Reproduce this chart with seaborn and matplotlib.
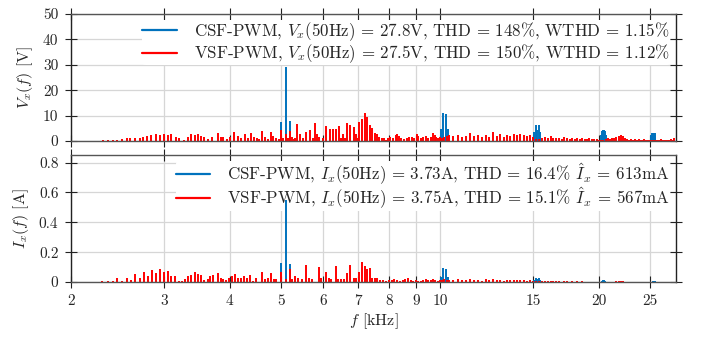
import numpy as np
import pandas as pd
import matplotlib
matplotlib.use("Agg")
import matplotlib.pyplot as plt
import seaborn as sns
from matplotlib.lines import Line2D
from matplotlib.ticker import FixedLocator, FixedFormatter, NullLocator

# --- data --------------------------------------------------------------------
# CSF-PWM voltage spectrum [kHz], [V]
csf_v_freq = [5.0, 5.1, 5.2, 10.05, 10.15, 10.25, 10.35,
              15.1, 15.2, 15.3, 15.4, 15.5,
              20.15, 20.25, 20.35, 20.45, 20.55, 20.65,
              25.1, 25.2, 25.3, 25.4, 25.5, 25.6]
csf_v_amp = [7.3, 29.0, 7.7, 4.6, 11.0, 10.8, 4.6,
             3.5, 6.3, 4.5, 6.3, 3.5,
             2.5, 4.0, 4.3, 4.3, 4.0, 2.5,
             2.2, 3.0, 3.0, 3.0, 3.0, 2.2]

# VSF-PWM voltage spectrum, low band (individual lines)
vsf_v_freq = [2.25, 2.30, 2.35, 2.40, 2.45, 2.50, 2.55, 2.59, 2.64, 2.70,
              2.74, 2.79, 2.84, 2.90, 2.95, 3.00, 3.05, 3.10, 3.16, 3.21,
              3.27, 3.33, 3.38, 3.44, 3.48, 3.52, 3.57, 3.63, 3.70, 3.79,
              3.84, 3.88, 3.95, 4.00, 4.08, 4.14, 4.20, 4.28, 4.33, 4.38,
              4.44, 4.50, 4.55, 4.61, 4.67, 4.73, 4.78, 4.82, 4.90, 4.95,
              5.00, 5.05, 5.10, 5.15, 5.20, 5.25, 5.30, 5.32, 5.37, 5.43,
              5.50, 5.58, 5.68, 5.74, 5.79, 5.84, 5.90, 6.00, 6.08, 6.18,
              6.28, 6.36, 6.45, 6.50, 6.56, 6.62, 6.67, 6.77, 6.86, 6.93,
              6.98, 7.03, 7.11, 7.21, 7.29, 7.37, 7.45, 7.52, 7.60, 7.68,
              7.76, 7.83, 7.90, 7.96, 8.05, 8.15, 8.25, 8.30, 8.35, 8.45,
              8.55, 8.65, 8.75, 8.85, 8.95, 9.05, 9.10, 9.20, 9.30, 9.40,
              9.50, 9.60, 9.70, 9.78, 9.85, 9.92, 10.00, 10.10, 10.20, 10.30]
vsf_v_amp = [0.2, 0.3, 0.3, 0.4, 0.6, 0.7, 1.0, 1.0, 1.2, 1.3,
             1.6, 2.0, 2.2, 2.6, 2.5, 2.9, 2.5, 2.6, 1.4, 1.2,
             0.6, 1.4, 2.6, 2.2, 2.9, 2.0, 1.4, 0.8, 1.6, 3.0,
             1.7, 1.7, 0.7, 1.4, 3.5, 2.0, 1.3, 2.6, 1.0, 3.0,
             1.4, 1.3, 0.8, 3.8, 1.4, 0.9, 3.5, 2.0, 1.3, 0.8,
             4.3, 1.0, 2.6, 1.0, 3.8, 1.4, 0.8, 1.2, 6.6, 2.6,
             1.2, 3.5, 4.5, 1.0, 7.1, 2.6, 1.4, 1.0, 5.9, 4.8,
             4.8, 4.8, 5.9, 1.0, 2.6, 1.0, 7.0, 6.5, 5.4, 2.6,
             1.0, 7.3, 8.5, 11.2, 9.6, 6.2, 5.2, 3.0, 2.8, 1.7,
             1.2, 1.0, 0.6, 1.0, 1.5, 1.2, 2.2, 2.6, 2.0, 1.0,
             0.8, 1.2, 1.5, 1.7, 1.2, 2.6, 2.0, 1.0, 1.4, 1.8,
             1.0, 1.6, 3.0, 2.2, 1.4, 1.0, 1.5, 1.2, 1.5, 2.0]

# VSF-PWM voltage spectrum, high band on a 200 Hz grid starting at 10.4 kHz
vsf_v_hf_start = 10.4
vsf_v_hf_amp = [2.2, 1.8, 2.5, 1.6, 2.0, 3.3, 1.8, 2.2, 1.5, 2.4,
                1.7, 3.4, 2.0, 2.8, 1.6, 2.2, 1.8, 2.6, 2.4, 2.6,
                2.3, 2.0, 2.4, 1.5, 0.8, 0.8, 1.2, 1.4, 1.0, 1.8,
                1.3, 1.0, 1.2, 0.8, 1.4, 1.0, 0.9, 1.2, 0.8, 1.0,
                0.7, 1.1, 0.9, 0.7, 1.0, 0.8, 0.9, 0.7, 0.6, 0.5,
                0.6, 0.8, 1.0, 0.9, 1.1, 1.0, 1.6, 2.1, 2.3, 2.0,
                1.2, 0.7, 0.6, 0.8, 0.6, 0.7, 0.5, 0.7, 0.6, 0.5,
                0.7, 0.5, 0.6, 0.4, 0.4, 0.5, 0.5, 0.6, 0.5, 0.7,
                0.5, 0.6, 0.5, 0.6, 0.5, 0.7, 0.6, 1.2]

# CSF-PWM current spectrum [kHz], [A]
csf_i_freq = [5.0, 5.1, 5.2, 10.05, 10.15, 10.25, 10.35,
              15.1, 15.2, 15.3, 15.4, 15.5,
              20.25, 20.35, 20.45, 20.55,
              25.3, 25.4, 25.5, 25.6]
csf_i_amp = [0.125, 0.551, 0.124, 0.035, 0.092, 0.090, 0.035,
             0.015, 0.030, 0.020, 0.030, 0.015,
             0.008, 0.012, 0.012, 0.008,
             0.005, 0.007, 0.007, 0.005]

# VSF-PWM current spectrum, low band
vsf_i_freq = [2.29, 2.35, 2.40, 2.45, 2.50, 2.55, 2.60, 2.65, 2.70, 2.75,
              2.80, 2.85, 2.90, 2.95, 3.00, 3.05, 3.10, 3.15, 3.20, 3.25,
              3.29, 3.33, 3.37, 3.43, 3.48, 3.53, 3.58, 3.63, 3.67, 3.72,
              3.79, 3.84, 3.89, 3.93, 3.98, 4.03, 4.09, 4.14, 4.20, 4.25,
              4.31, 4.37, 4.43, 4.49, 4.60, 4.66, 4.72, 4.79, 4.85, 4.90,
              5.00, 5.10, 5.20, 5.24, 5.31, 5.38, 5.48, 5.58, 5.65, 5.72,
              5.89, 5.96, 6.08, 6.16, 6.22, 6.35, 6.42, 6.50, 6.59, 6.67,
              6.77, 6.86, 6.94, 7.03, 7.13, 7.21, 7.29, 7.37, 7.45, 7.52,
              7.60, 7.70, 7.80, 7.90, 8.00, 8.10, 8.20, 8.30, 8.40, 8.50,
              8.60, 8.70, 8.80, 8.90, 9.00, 9.10, 9.20, 9.30, 9.40, 9.50,
              9.60, 9.70, 9.80, 9.90, 10.00, 10.10, 10.20, 10.30]
vsf_i_amp = [0.008, 0.005, 0.010, 0.024, 0.010, 0.024, 0.016, 0.057, 0.030, 0.070,
             0.043, 0.082, 0.060, 0.089, 0.065, 0.077, 0.043, 0.038, 0.010, 0.010,
             0.018, 0.043, 0.047, 0.070, 0.052, 0.047, 0.016, 0.018, 0.038, 0.047,
             0.060, 0.027, 0.018, 0.016, 0.030, 0.038, 0.057, 0.027, 0.027, 0.038,
             0.027, 0.047, 0.010, 0.027, 0.065, 0.018, 0.027, 0.060, 0.020, 0.020,
             0.070, 0.020, 0.087, 0.020, 0.043, 0.025, 0.020, 0.115, 0.025, 0.020,
             0.100, 0.025, 0.070, 0.025, 0.020, 0.110, 0.020, 0.020, 0.020, 0.060,
             0.115, 0.025, 0.025, 0.070, 0.136, 0.108, 0.087, 0.094, 0.025, 0.025,
             0.025, 0.015, 0.012, 0.010, 0.015, 0.012, 0.018, 0.015, 0.010, 0.012,
             0.020, 0.025, 0.015, 0.010, 0.012, 0.008, 0.010, 0.015, 0.020, 0.012,
             0.015, 0.018, 0.012, 0.010, 0.012, 0.015, 0.020, 0.015]

# VSF-PWM current spectrum, high band on a 200 Hz grid starting at 10.4 kHz
vsf_i_hf_start = 10.4
vsf_i_hf_amp = [0.012, 0.015, 0.020, 0.012, 0.015, 0.022, 0.012, 0.015, 0.010, 0.018,
                0.012, 0.022, 0.015, 0.016, 0.010, 0.014, 0.012, 0.016, 0.013, 0.015,
                0.013, 0.010, 0.012, 0.006, 0.004, 0.004, 0.005, 0.006, 0.004, 0.007,
                0.005, 0.004, 0.005, 0.003, 0.005, 0.004, 0.003, 0.004, 0.003, 0.004,
                0.002, 0.004, 0.003, 0.002, 0.003, 0.002, 0.003, 0.002, 0.002, 0.002,
                0.002, 0.003, 0.003, 0.003, 0.003, 0.003, 0.004, 0.005, 0.006, 0.005,
                0.003, 0.002, 0.002, 0.002, 0.001, 0.002, 0.001, 0.002, 0.001, 0.001,
                0.002, 0.001, 0.001, 0.001, 0.001, 0.001, 0.002, 0.001, 0.001, 0.002,
                0.001, 0.001, 0.001, 0.002, 0.001, 0.001, 0.001, 0.002]

csf_v_label = r'CSF-PWM, $V_x(50\mathrm{Hz})$ = 27.8V, THD = 148%, WTHD = 1.15%'
vsf_v_label = r'VSF-PWM, $V_x(50\mathrm{Hz})$ = 27.5V, THD = 150%, WTHD = 1.12%'
csf_i_label = r'CSF-PWM, $I_x(50\mathrm{Hz})$ = 3.73A, THD = 16.4% $\hat{I}_x$ = 613mA'
vsf_i_label = r'VSF-PWM, $I_x(50\mathrm{Hz})$ = 3.75A, THD = 15.1% $\hat{I}_x$ = 567mA'

x_ticks = [2, 3, 4, 5, 6, 7, 8, 9, 10, 15, 20, 25]
v_ticks = [0, 10, 20, 30, 40, 50]
i_ticks = [0, 0.2, 0.4, 0.6, 0.8]

BLUE = '#0072BD'
RED = '#FF0000'

# --- styling -----------------------------------------------------------------
sns.set_style('whitegrid')
plt.rcParams['font.family'] = ['cmr10', 'DejaVu Serif']
plt.rcParams['mathtext.fontset'] = 'cm'
plt.rcParams['axes.unicode_minus'] = False
plt.rcParams['axes.formatter.use_mathtext'] = True


def hf_grid(start, amps):
    # harmonic lines on a 200 Hz grid
    return list(np.round(start + 0.2 * np.arange(len(amps)), 2))


def stems(freq, amp, label):
    """Long-form table: every spectral line is one unit with two points."""
    rows = []
    for k, (f, a) in enumerate(zip(freq, amp)):
        rows.append({'f': f, 'amp': 0.0, 'series': label, 'bar': f'{label}_{k}'})
        rows.append({'f': f, 'amp': a, 'series': label, 'bar': f'{label}_{k}'})
    return pd.DataFrame(rows)


def draw_spectrum(ax, csf_f, csf_a, vsf_f, vsf_a, csf_lab, vsf_lab, spacing):
    df = pd.concat([stems(csf_f, csf_a, csf_lab), stems(vsf_f, vsf_a, vsf_lab)],
                   ignore_index=True)
    sns.lineplot(data=df, x='f', y='amp', hue='series', hue_order=[csf_lab, vsf_lab],
                 palette=[BLUE, RED], units='bar', estimator=None, sort=False,
                 lw=1.4, solid_capstyle='butt', legend=False, ax=ax)
    handles = [Line2D([], [], color=BLUE, lw=1.6), Line2D([], [], color=RED, lw=1.6)]
    leg = ax.legend(handles, [csf_lab, vsf_lab], loc='upper right', fontsize=12.2,
                    frameon=True, framealpha=1, facecolor='white', edgecolor='none',
                    handlelength=2.05, handletextpad=1.0, labelspacing=spacing,
                    borderaxespad=0.35, borderpad=0.0)
    leg.get_frame().set_linewidth(0)
    # spectral lines stay on top of the legend's white box
    leg.set_zorder(1.5)


def style_axes(ax, yticks, ylim, ylabel, labels):
    ax.set_xscale('log')
    ax.set_xlim(2, 28)
    ax.set_ylim(*ylim)
    ax.xaxis.set_major_locator(FixedLocator(x_ticks))
    ax.xaxis.set_major_formatter(FixedFormatter([str(t) for t in x_ticks]))
    ax.xaxis.set_minor_locator(NullLocator())
    ax.set_yticks(yticks)
    ax.set_yticklabels([f'{t:g}' for t in yticks])
    ax.grid(True, which='major', color='#d6d6d6', lw=0.9)
    ax.set_axisbelow(True)
    ax.tick_params(which='major', direction='inout', length=8, width=0.8,
                   top=True, right=True, bottom=True, left=True,
                   labelsize=11, color='#222222', labelbottom=labels, pad=5)
    for side in ['left', 'right']:
        ax.spines[side].set_color('#222222')
        ax.spines[side].set_linewidth(1.0)
    for side in ['top', 'bottom']:
        ax.spines[side].set_color('#555555')
        ax.spines[side].set_linewidth(1.0)
    ax.set_ylabel(ylabel, fontsize=11.5, labelpad=6)
    ax.set_xlabel('')


fig = plt.figure(figsize=(7.02, 3.39), dpi=100)
ax_v = fig.add_axes([0.1011, 0.584, 0.8618, 0.3746])
ax_i = fig.add_axes([0.1011, 0.168, 0.8618, 0.3746])

draw_spectrum(ax_v, csf_v_freq, csf_v_amp,
              vsf_v_freq + hf_grid(vsf_v_hf_start, vsf_v_hf_amp),
              vsf_v_amp + vsf_v_hf_amp, csf_v_label, vsf_v_label, 0.0)
draw_spectrum(ax_i, csf_i_freq, csf_i_amp,
              vsf_i_freq + hf_grid(vsf_i_hf_start, vsf_i_hf_amp),
              vsf_i_amp + vsf_i_hf_amp, csf_i_label, vsf_i_label, -0.1)

style_axes(ax_v, v_ticks, (0, 50), r'$V_x(f)$ [V]', labels=False)
style_axes(ax_i, i_ticks, (0, 0.85), r'$I_x(f)$ [A]', labels=True)
ax_i.set_xlabel(r'$f$ [kHz]', fontsize=11.5, labelpad=2)

fig.savefig('out.png', dpi=100)
